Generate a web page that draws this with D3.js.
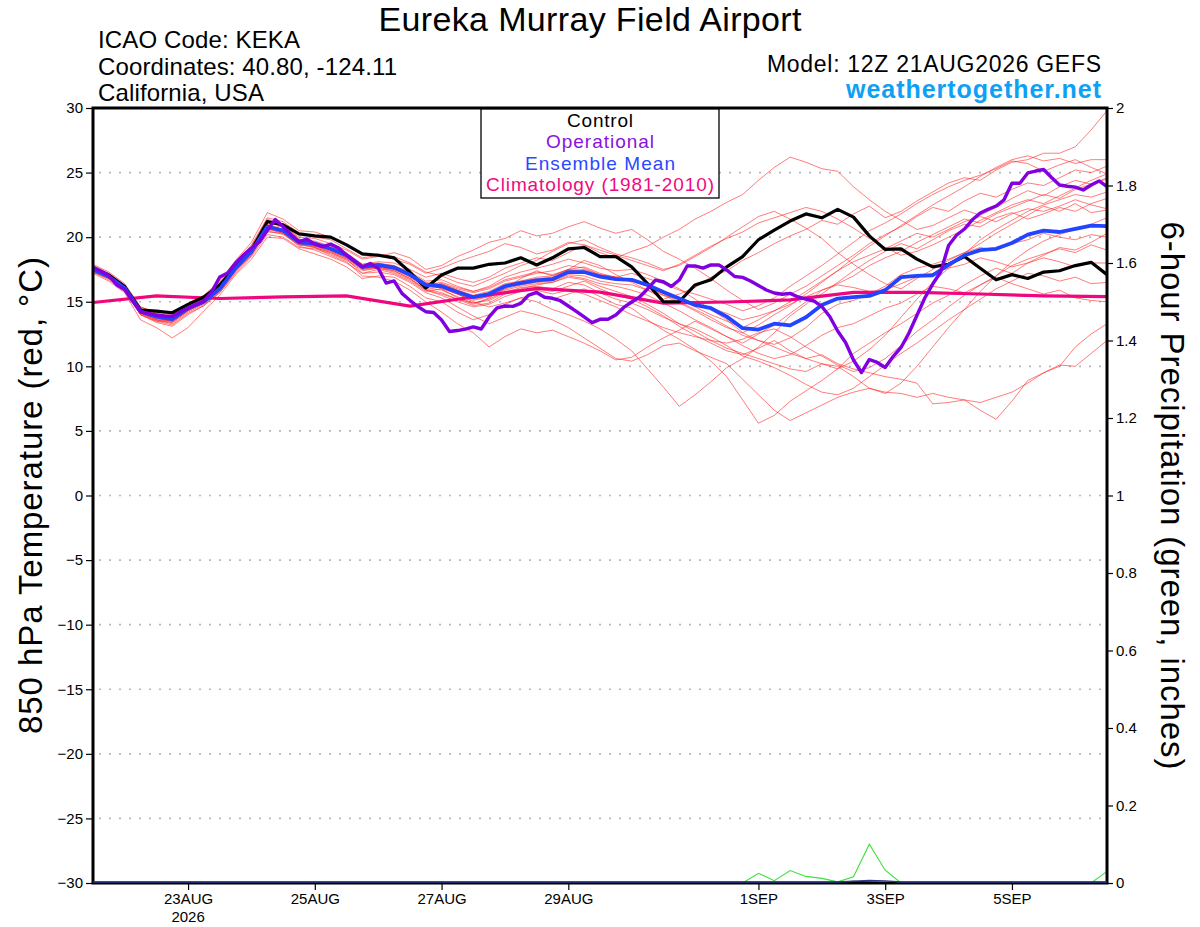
<!DOCTYPE html>
<html>
<head>
<meta charset="utf-8">
<script src="https://cdn.jsdelivr.net/npm/d3@7"></script>
<style>
  body { margin: 0; background: #fff; }
  svg text { font-family: "Liberation Sans", Arial, Helvetica, sans-serif; }
</style>
</head>
<body>
<svg id="chart" width="1200" height="927"></svg>
<script>
// run 12Z 21AUG2026, 16 day GEFS plume
const RUN_START = new Date(Date.UTC(2026, 7, 21, 12));
const RUN_END = new Date(Date.UTC(2026, 8, 6, 12));
const ensHours = d3.range(0, 385, 6);
const opHours = d3.range(0, 385, 3);
const climHours = d3.range(0, 385, 24);

const tickDates = ['2026-08-23', '2026-08-25', '2026-08-27', '2026-08-29', '2026-09-01', '2026-09-03', '2026-09-05'];
const tickLabels = ['23AUG', '25AUG', '27AUG', '29AUG', '1SEP', '3SEP', '5SEP'];
const tempTicks = [-30, -25, -20, -15, -10, -5, 0, 5, 10, 15, 20, 25, 30];
const precipTicks = [0, 0.2, 0.4, 0.6, 0.8, 1, 1.2, 1.4, 1.6, 1.8, 2];
const legendItems = ['Control', 'Operational', 'Ensemble Mean', 'Climatology (1981-2010)'];

const control = [
  17.6, 17.07, 16.17, 14.36, 14.28, 14.15, 14.8, 15.37, 16.3, 17.7, 19.0, 21.2, 20.95, 20.25, 20.1,
  20.0, 19.4, 18.7, 18.6, 18.4, 17.3, 16.07, 17.07, 17.6, 17.6, 17.9, 18.0, 18.4, 17.85, 18.4,
  19.1, 19.2, 18.5, 18.5, 17.7, 16.4, 15.0, 15.0, 16.3, 16.7, 17.7, 18.5, 19.8, 20.55, 21.25,
  21.8, 21.5, 22.15, 21.55, 20.1, 19.05, 19.1, 18.3, 17.7, 17.9, 18.5, 17.6, 16.7, 17.1, 16.8,
  17.3, 17.4, 17.8, 18.05, 17.1,
];

const ensMean = [
  17.5, 16.95, 16.05, 14.25, 13.85, 13.65, 14.5, 15.0, 16.0, 17.6, 18.9, 20.8, 20.5, 19.6, 19.5,
  19.1, 18.6, 17.7, 17.85, 17.65, 17.1, 16.3, 16.2, 15.75, 15.35, 15.6, 16.2, 16.45, 16.65, 16.75,
  17.3, 17.3, 16.95, 16.75, 16.7, 16.3, 15.75, 15.25, 14.75, 14.5, 13.85, 12.95, 12.85, 13.3, 13.17,
  13.8, 14.75, 15.25, 15.35, 15.45, 15.9, 16.9, 17.0, 17.05, 17.85, 18.6, 19.0, 19.1, 19.55, 20.2,
  20.5, 20.4, 20.65, 20.9, 20.85,
];

const operational = [
  17.66, 17.38, 17.03, 16.30, 15.95, 15.06, 14.22, 14.09, 13.96, 13.90, 13.86, 14.21, 14.52, 14.78, 15.06,
  15.79, 16.92, 17.23, 18.0, 18.62, 19.16, 19.63, 20.52, 21.37, 20.81, 20.21, 19.66, 19.84, 19.45, 19.26,
  19.46, 19.16, 18.62, 18.16, 17.69, 17.96, 17.59, 16.45, 16.61, 15.65, 15.11, 14.63, 14.23, 14.17, 13.59,
  12.70, 12.77, 12.88, 13.05, 12.89, 13.82, 14.52, 14.67, 14.64, 14.87, 15.52, 15.72, 15.35, 15.27, 15.08,
  14.67, 14.26, 13.82, 13.38, 13.64, 13.64, 13.97, 14.56, 14.98, 15.37, 15.99, 16.68, 16.55, 16.18, 16.68,
  17.77, 17.77, 17.60, 17.85, 17.85, 17.46, 16.95, 16.89, 16.61, 16.26, 15.91, 15.68, 15.58, 15.65, 15.37,
  15.21, 15.06, 14.63, 13.86, 12.74, 11.85, 10.49, 9.52, 10.53, 10.30, 9.91, 10.76, 11.46, 12.58, 13.94,
  15.29, 16.37, 17.30, 19.36, 20.15, 20.63, 21.35, 21.87, 22.16, 22.41, 22.89, 24.17, 24.17, 24.97, 25.12,
  25.24, 24.62, 24.04, 23.94, 23.87, 23.65, 24.04, 24.35, 23.91,
];

const climatology = [14.94, 15.45, 15.25, 15.37, 15.45, 14.67, 15.37, 16.03, 15.75, 14.9, 14.98, 15.14, 15.73, 15.73, 15.6, 15.45, 15.4];

const members = [
  [17.8, 17.2, 16.3, 14.6, 14.1, 13.9, 14.8, 15.4, 16.5, 18.0, 19.4, 21.5, 21.2, 20.3, 20.0, 19.8, 19.1, 18.4, 18.6, 18.3, 17.9, 17.2, 17.6, 18.1, 18.5, 18.9, 19.5, 19.2, 18.7, 19.0, 19.6, 19.4, 18.8, 18.4, 18.9, 19.3, 20.0, 20.6, 21.4, 22.0, 22.7, 23.3, 24.4, 25.4, 26.2, 25.8, 25.3, 25.1, 23.9, 22.9, 22.0, 21.3, 20.6, 20.9, 21.5, 22.1, 21.7, 22.3, 23.0, 23.6, 23.2, 23.9, 24.4, 24.1, 24.6],
  [17.3, 16.8, 15.9, 14.0, 13.5, 13.2, 14.1, 14.7, 15.8, 17.4, 18.6, 20.6, 20.9, 19.9, 19.2, 18.8, 18.3, 17.2, 17.5, 17.2, 16.6, 15.8, 16.0, 15.3, 14.8, 15.3, 16.0, 16.8, 17.4, 17.0, 17.5, 18.2, 17.8, 17.1, 16.5, 15.9, 15.2, 15.6, 16.1, 16.9, 17.4, 18.2, 18.8, 19.5, 20.1, 20.6, 21.3, 21.0, 21.8, 22.4, 21.5, 22.0, 22.8, 23.5, 24.2, 24.6, 24.4, 25.2, 25.8, 26.0, 26.5, 26.5, 27.0, 28.3, 29.8],
  [17.2, 16.6, 15.7, 13.6, 13.0, 12.2, 13.0, 14.3, 15.5, 17.1, 18.3, 20.0, 19.9, 19.1, 18.7, 18.3, 17.7, 16.8, 17.0, 16.9, 16.2, 15.3, 15.0, 14.2, 13.6, 14.0, 14.8, 15.3, 15.6, 15.2, 15.6, 16.0, 15.4, 14.8, 14.5, 13.6, 12.8, 12.1, 11.3, 10.4, 9.2, 7.4, 5.6, 6.2, 7.3, 8.1, 8.9, 9.8, 11.0, 11.8, 12.6, 13.3, 14.1, 14.9, 15.5, 16.3, 17.0, 17.6, 17.2, 18.0, 18.6, 19.2, 19.0, 19.6, 20.3],
  [17.6, 17.0, 16.0, 14.2, 13.7, 13.5, 14.4, 14.9, 15.9, 17.5, 18.7, 20.5, 20.2, 19.4, 19.3, 18.9, 18.4, 17.5, 17.7, 17.4, 16.8, 16.0, 15.7, 15.2, 14.7, 14.9, 15.6, 15.9, 16.0, 15.8, 16.2, 16.6, 16.0, 15.5, 15.2, 14.6, 13.9, 13.1, 12.4, 11.8, 11.2, 10.9, 11.4, 12.0, 11.2, 10.6, 10.9, 10.2, 9.8, 9.5, 9.2, 9.0, 8.7, 7.1, 7.2, 7.4, 6.6, 5.9, 7.3, 8.9, 9.5, 10.0, 11.5, 12.5, 13.3],
  [17.4, 16.9, 16.1, 14.4, 14.0, 13.8, 14.6, 15.2, 16.2, 17.8, 19.1, 21.0, 20.6, 19.7, 19.7, 19.3, 18.7, 17.8, 17.9, 17.7, 17.0, 16.4, 16.0, 15.6, 15.0, 14.6, 14.9, 15.3, 15.0, 14.4, 14.0, 13.5, 12.9, 12.1, 11.2, 9.8, 8.4, 6.9, 7.8, 8.8, 9.9, 10.6, 11.5, 12.6, 13.9, 14.8, 15.9, 16.4, 17.0, 17.8, 18.4, 18.9, 19.6, 20.2, 20.8, 21.4, 21.1, 21.8, 22.3, 22.8, 23.3, 23.0, 23.7, 24.1, 24.5],
  [17.5, 16.9, 15.9, 14.1, 13.6, 13.3, 14.2, 14.8, 15.7, 17.3, 18.6, 20.4, 20.3, 19.3, 19.0, 18.5, 18.0, 17.2, 17.3, 17.1, 16.5, 15.7, 15.3, 14.6, 13.9, 13.3, 13.8, 14.3, 14.0, 13.6, 13.0, 12.2, 11.4, 10.6, 10.4, 10.9, 11.6, 11.8, 11.2, 10.7, 10.2, 9.0, 7.8, 6.6, 5.8, 6.4, 7.0, 7.6, 8.0, 8.3, 8.0, 7.9, 7.6, 7.9, 7.6, 7.4, 7.2, 7.6, 8.0, 8.7, 9.5, 10.1, 10.0, 11.0, 12.0],
  [17.6, 17.1, 16.2, 14.3, 13.9, 13.7, 14.5, 15.0, 16.0, 17.6, 18.9, 20.9, 20.4, 19.5, 19.2, 18.6, 18.1, 17.0, 16.9, 16.6, 15.9, 15.0, 14.2, 13.3, 12.6, 11.5, 12.3, 12.9, 12.6, 12.8, 12.3, 11.8, 11.2, 10.5, 10.7, 11.5, 12.2, 12.8, 13.5, 12.9, 12.3, 11.8, 12.5, 13.2, 14.1, 15.0, 15.6, 16.5, 17.4, 18.2, 18.9, 19.5, 19.1, 19.8, 20.5, 21.0, 20.8, 21.5, 21.9, 21.4, 21.8, 22.3, 22.0, 22.6, 23.0],
  [17.7, 17.1, 16.1, 14.4, 14.0, 13.7, 14.6, 15.2, 16.3, 17.9, 19.3, 21.4, 20.9, 20.0, 19.9, 19.5, 19.0, 18.3, 18.5, 18.8, 18.4, 17.5, 17.8, 18.5, 19.0, 19.6, 19.9, 20.5, 20.1, 20.3, 20.8, 21.2, 20.7, 20.3, 20.6, 19.8, 18.9, 18.3, 17.6, 16.8, 15.9, 15.1, 14.4, 14.9, 15.6, 16.2, 17.0, 17.8, 18.6, 19.5, 20.2, 20.8, 21.6, 22.3, 22.0, 22.8, 23.4, 23.1, 23.7, 24.2, 24.0, 24.6, 25.2, 25.0, 25.5],
  [17.4, 16.8, 15.8, 14.0, 13.5, 13.4, 14.3, 14.9, 15.9, 17.5, 18.8, 20.7, 20.6, 19.7, 19.6, 19.2, 18.8, 17.9, 18.1, 18.0, 17.5, 16.9, 17.2, 16.8, 16.5, 16.9, 17.6, 18.0, 18.4, 18.2, 18.8, 19.4, 19.0, 18.6, 18.2, 17.8, 17.4, 17.9, 18.6, 19.3, 19.9, 20.4, 21.1, 21.5, 21.9, 22.3, 22.0, 21.4, 20.7, 19.9, 19.2, 18.6, 18.9, 19.4, 20.0, 20.6, 21.3, 21.9, 22.5, 22.9, 22.6, 23.2, 23.8, 24.4, 24.9],
  [17.5, 17.0, 16.0, 14.2, 13.8, 13.6, 14.4, 14.9, 15.9, 17.5, 18.8, 20.7, 20.4, 19.5, 19.4, 19.0, 18.5, 17.6, 17.8, 17.6, 17.0, 16.2, 16.4, 16.0, 15.7, 16.0, 16.6, 16.9, 17.2, 17.4, 17.8, 17.6, 17.1, 16.9, 17.2, 16.8, 16.4, 15.9, 15.6, 15.2, 14.8, 14.3, 14.7, 15.3, 16.2, 17.0, 17.8, 18.7, 19.6, 20.5, 21.1, 21.8, 22.6, 23.3, 23.9, 24.4, 24.8, 25.3, 25.9, 25.7, 25.1, 25.6, 26.0, 25.4, 24.9],
  [17.3, 16.7, 15.8, 14.0, 13.4, 13.1, 14.0, 14.7, 15.7, 17.2, 18.5, 20.2, 20.0, 19.2, 19.1, 18.7, 18.2, 17.4, 17.6, 17.3, 16.7, 15.9, 15.6, 15.2, 14.9, 15.2, 15.8, 16.0, 16.3, 16.5, 17.0, 16.8, 16.4, 16.2, 15.9, 15.5, 14.9, 14.3, 13.6, 13.0, 12.3, 11.6, 11.0, 10.6, 10.9, 11.6, 12.4, 13.0, 13.3, 13.9, 14.5, 14.9, 15.6, 16.2, 16.0, 15.7, 16.3, 16.9, 16.4, 16.0, 15.6, 15.9, 15.3, 15.1, 15.0],
  [17.6, 17.0, 16.1, 14.3, 13.9, 13.8, 14.5, 15.1, 16.1, 17.7, 19.0, 20.9, 20.6, 19.7, 19.5, 19.1, 18.6, 17.8, 17.9, 17.8, 17.3, 16.6, 16.7, 16.2, 15.8, 16.2, 16.9, 17.3, 17.6, 17.9, 18.3, 18.0, 17.6, 17.4, 17.5, 17.1, 16.6, 16.0, 15.2, 14.4, 13.6, 12.6, 12.0, 11.7, 12.2, 13.0, 14.1, 14.8, 15.1, 15.6, 16.2, 17.1, 17.6, 17.9, 18.3, 18.8, 19.2, 19.0, 19.5, 19.8, 20.3, 20.0, 19.8, 20.2, 20.0],
  [17.9, 17.3, 16.4, 14.6, 14.2, 14.0, 14.9, 15.5, 16.6, 18.2, 19.6, 21.9, 21.4, 20.5, 20.4, 20.0, 19.4, 18.6, 18.7, 18.5, 18.0, 17.3, 17.0, 16.5, 16.2, 16.7, 17.2, 17.8, 18.2, 18.9, 19.5, 19.8, 19.2, 18.7, 18.4, 18.0, 17.5, 17.8, 18.5, 19.2, 20.0, 20.8, 21.6, 22.0, 21.4, 20.7, 19.9, 18.8, 17.9, 17.1, 16.4, 16.0, 16.8, 17.5, 18.2, 18.8, 19.5, 20.3, 21.0, 21.7, 22.4, 22.0, 22.6, 21.9, 22.1],
  [17.5, 16.9, 16.0, 14.1, 13.6, 13.4, 14.3, 14.9, 16.0, 17.6, 18.9, 20.8, 20.4, 19.5, 19.3, 18.9, 18.4, 17.6, 17.7, 17.5, 16.9, 16.1, 15.9, 15.4, 14.9, 15.1, 15.7, 16.1, 16.2, 16.0, 16.5, 16.3, 15.7, 15.2, 14.9, 14.4, 13.8, 13.3, 12.9, 12.3, 11.6, 10.8, 10.4, 9.9, 9.3, 8.6, 8.0, 7.8, 8.3, 9.2, 10.1, 11.0, 11.8, 12.7, 13.6, 14.4, 15.2, 16.0, 16.6, 17.2, 17.0, 16.6, 16.9, 16.4, 16.5],
  [17.7, 17.1, 16.2, 14.5, 14.1, 13.8, 14.7, 15.2, 16.2, 17.8, 19.2, 21.2, 20.8, 19.8, 19.6, 19.2, 18.7, 17.9, 18.0, 17.8, 17.2, 16.5, 16.3, 15.9, 15.5, 15.8, 16.4, 16.6, 16.9, 17.0, 17.5, 17.4, 17.0, 16.8, 16.6, 16.2, 15.6, 15.0, 14.4, 13.8, 13.1, 12.4, 12.0, 11.5, 11.0, 10.6, 10.2, 9.8, 10.4, 11.3, 12.4, 13.8, 15.2, 16.5, 17.6, 18.7, 19.8, 20.6, 21.3, 22.0, 22.5, 22.9, 23.3, 23.1, 23.5],
  [17.4, 16.9, 16.0, 14.2, 13.7, 13.5, 14.4, 14.9, 15.9, 17.5, 18.9, 20.8, 20.5, 19.6, 19.4, 19.0, 18.5, 17.6, 17.7, 17.5, 17.0, 16.3, 16.5, 16.1, 15.8, 16.1, 16.7, 17.0, 17.3, 17.1, 17.5, 17.7, 17.2, 16.9, 16.6, 16.2, 15.5, 14.9, 14.3, 13.6, 13.0, 12.6, 13.2, 14.0, 14.7, 15.6, 16.5, 17.4, 18.4, 19.3, 20.1, 20.9, 21.7, 22.5, 23.2, 23.9, 24.7, 25.4, 26.0, 26.3, 25.9, 26.1, 25.7, 26.0, 26.0],
  [17.6, 17.0, 16.0, 14.2, 13.8, 13.5, 14.4, 15.0, 16.0, 17.6, 18.9, 20.7, 20.3, 19.4, 19.2, 18.8, 18.3, 17.5, 17.6, 17.4, 16.8, 15.9, 15.5, 15.0, 14.6, 14.8, 15.4, 15.8, 15.9, 15.6, 15.9, 15.6, 15.1, 14.6, 14.0, 13.5, 13.0, 12.6, 12.3, 12.0, 11.8, 12.1, 12.6, 12.9, 12.3, 11.5, 10.8, 10.1, 9.6, 9.9, 10.6, 11.6, 12.7, 13.6, 14.6, 15.5, 16.3, 17.0, 17.8, 18.3, 18.7, 19.1, 18.8, 19.4, 19.0],
  [17.3, 16.8, 15.9, 14.1, 13.6, 13.5, 14.3, 14.9, 15.9, 17.4, 18.7, 20.6, 20.3, 19.5, 19.4, 19.0, 18.5, 17.7, 17.8, 17.6, 17.1, 16.4, 16.1, 15.6, 15.1, 15.4, 16.0, 16.3, 16.5, 16.6, 17.1, 17.0, 16.6, 16.4, 16.3, 15.9, 15.5, 15.2, 14.8, 14.5, 14.1, 13.6, 13.9, 14.3, 14.8, 15.4, 15.9, 16.3, 16.1, 15.8, 15.9, 16.4, 16.9, 17.2, 17.6, 17.9, 18.4, 18.1, 17.7, 18.0, 18.4, 18.1, 17.7, 18.0, 18.0],
  [17.5, 16.9, 16.0, 14.2, 13.8, 13.6, 14.5, 15.0, 16.0, 17.6, 18.9, 20.8, 20.5, 19.6, 19.5, 19.1, 18.6, 17.7, 17.8, 17.6, 17.0, 16.2, 16.1, 15.6, 15.2, 15.4, 15.9, 16.2, 16.4, 16.5, 16.9, 16.7, 16.2, 15.8, 15.4, 14.8, 14.1, 13.3, 12.7, 12.0, 11.4, 11.0, 10.6, 10.2, 9.8, 9.6, 10.2, 10.0, 9.2, 8.3, 7.9, 8.7, 10.0, 11.5, 13.0, 14.4, 15.8, 17.0, 18.1, 19.0, 19.7, 20.2, 20.6, 21.0, 21.5],
  [17.6, 17.0, 16.0, 14.3, 13.9, 13.6, 14.5, 15.1, 16.1, 17.7, 19.0, 20.9, 20.6, 19.7, 19.5, 19.1, 18.6, 17.7, 17.9, 17.7, 17.1, 16.3, 16.4, 15.9, 15.4, 15.7, 16.3, 16.6, 16.8, 16.9, 17.4, 17.5, 17.1, 16.9, 16.7, 16.3, 15.8, 15.2, 14.6, 14.0, 13.5, 13.0, 13.6, 14.3, 15.0, 15.8, 16.6, 17.4, 18.1, 18.6, 19.1, 19.7, 20.3, 20.0, 20.6, 21.2, 21.6, 21.2, 21.8, 22.2, 22.0, 22.4, 22.9, 22.5, 22.2],
];

// 6-hour precipitation, inches
const precipMembers = [
  0, 0, 0, 0, 0, 0, 0, 0, 0, 0, 0, 0, 0, 0, 0, 0, 0, 0, 0, 0, 0, 0, 0, 0, 0, 0, 0, 0, 0, 0,
  0, 0, 0, 0, 0, 0, 0, 0, 0, 0, 0, 0, 0.025, 0.006, 0.032, 0.017, 0.012, 0.003, 0.016, 0.1, 0.033, 0, 0, 0, 0, 0, 0, 0, 0, 0,
  0, 0, 0, 0, 0.03,
];
const precipControl = [
  0, 0, 0, 0, 0, 0, 0, 0, 0, 0, 0, 0, 0, 0, 0, 0, 0, 0, 0, 0, 0, 0, 0, 0, 0, 0, 0, 0, 0, 0,
  0, 0, 0, 0, 0, 0, 0, 0, 0, 0, 0, 0, 0, 0, 0, 0, 0, 0.001, 0.004, 0.002, 0, 0, 0, 0, 0, 0, 0, 0, 0, 0,
  0, 0, 0, 0, 0,
];
const precipMean = [
  0, 0, 0, 0, 0, 0, 0, 0, 0, 0, 0, 0, 0, 0, 0, 0, 0, 0, 0, 0, 0, 0, 0, 0, 0, 0, 0, 0, 0, 0,
  0, 0, 0, 0, 0, 0, 0, 0, 0, 0, 0, 0, 0, 0, 0, 0, 0, 0, 0.002, 0.004, 0.003, 0, 0, 0, 0, 0, 0, 0, 0, 0,
  0, 0, 0, 0, 0,
];

const LEFT = 93;
const RIGHT = 1107;
const TOP = 108;
const BOTTOM = 883;
const FONT = '"Liberation Sans", Arial, Helvetica, sans-serif';

const svg = d3.select('#chart');
svg.append('rect').attr('width', 1200).attr('height', 927).attr('fill', '#fff');

const x = d3.scaleUtc().domain([RUN_START, RUN_END]).range([LEFT, RIGHT]);
const yT = d3.scaleLinear().domain([-30, 30]).range([BOTTOM, TOP]);
const yP = d3.scaleLinear().domain([0, 2]).range([BOTTOM, TOP]);
const hourToDate = (h) => new Date(RUN_START.getTime() + h * 3600e3);

function tempLine(hours) {
  return d3.line()
    .x((d, i) => x(hourToDate(hours[i])))
    .y((d) => yT(d));
}

function precipLine(hours) {
  return d3.line()
    .x((d, i) => x(hourToDate(hours[i])))
    .y((d) => yP(d));
}

svg.append('clipPath').attr('id', 'plot-clip')
  .append('rect')
  .attr('x', LEFT).attr('y', TOP)
  .attr('width', RIGHT - LEFT).attr('height', BOTTOM - TOP);

// dotted grid
svg.append('g')
  .selectAll('line')
  .data(tempTicks.filter((t) => t > -30 && t < 30))
  .join('line')
  .attr('x1', LEFT + 6).attr('x2', RIGHT)
  .attr('y1', (d) => yT(d)).attr('y2', (d) => yT(d))
  .attr('stroke', '#b8b8b8')
  .attr('stroke-width', 1.6)
  .attr('stroke-dasharray', '2,8');

const plot = svg.append('g').attr('clip-path', 'url(#plot-clip)');

plot.append('g')
  .selectAll('path')
  .data(members)
  .join('path')
  .attr('d', tempLine(ensHours))
  .attr('fill', 'none')
  .attr('stroke', '#ff2020')
  .attr('stroke-opacity', 0.65)
  .attr('stroke-width', 0.9);

plot.append('path')
  .attr('d', precipLine(ensHours)(precipMembers))
  .attr('fill', 'none')
  .attr('stroke', '#3ee03e')
  .attr('stroke-width', 1.1);

plot.append('path')
  .attr('d', tempLine(climHours)(climatology))
  .attr('fill', 'none')
  .attr('stroke', '#f0067e')
  .attr('stroke-width', 3.2);

plot.append('path')
  .attr('d', tempLine(ensHours)(control))
  .attr('fill', 'none')
  .attr('stroke', '#000')
  .attr('stroke-width', 3.2)
  .attr('stroke-linejoin', 'round');

plot.append('path')
  .attr('d', tempLine(ensHours)(ensMean))
  .attr('fill', 'none')
  .attr('stroke', '#2244ff')
  .attr('stroke-width', 3.8)
  .attr('stroke-linejoin', 'round');

plot.append('path')
  .attr('d', tempLine(opHours)(operational))
  .attr('fill', 'none')
  .attr('stroke', '#8000e0')
  .attr('stroke-width', 3.4)
  .attr('stroke-linejoin', 'round');

// frame
svg.append('rect')
  .attr('x', LEFT).attr('y', TOP)
  .attr('width', RIGHT - LEFT).attr('height', BOTTOM - TOP)
  .attr('fill', 'none')
  .attr('stroke', '#000')
  .attr('stroke-width', 3);

// precip lines sitting on the bottom edge
svg.append('path')
  .attr('d', precipLine(ensHours)(precipControl))
  .attr('fill', 'none').attr('stroke', '#000').attr('stroke-width', 1.6);
svg.append('path')
  .attr('d', precipLine(ensHours)(precipMean))
  .attr('fill', 'none').attr('stroke', '#2a3a8a').attr('stroke-width', 1.4)
  .attr('transform', 'translate(0,-1)');

// axes
const leftAxis = svg.append('g')
  .attr('transform', `translate(${LEFT - 1},0)`)
  .call(d3.axisLeft(yT).tickValues(tempTicks).tickSize(6).tickPadding(3));
const rightAxis = svg.append('g')
  .attr('transform', `translate(${RIGHT + 1},0)`)
  .call(d3.axisRight(yP).tickValues(precipTicks).tickSize(5).tickPadding(3).tickFormat(d3.format('~g')));
const bottomAxis = svg.append('g')
  .attr('transform', `translate(0,${BOTTOM + 1})`)
  .call(d3.axisBottom(x)
    .tickValues(tickDates.map((s) => new Date(`${s}T00:00:00Z`)))
    .tickSize(6).tickPadding(3)
    .tickFormat((d, i) => tickLabels[i]));

[leftAxis, rightAxis, bottomAxis].forEach((g) => {
  g.select('.domain').remove();
  g.selectAll('.tick line').attr('stroke', '#000').attr('stroke-width', 1.2);
  g.selectAll('.tick text').attr('fill', '#000').style('font-size', '15px').style('font-family', FONT);
});

svg.append('text')
  .attr('x', x(new Date(`${tickDates[0]}T00:00:00Z`)))
  .attr('y', 922)
  .attr('text-anchor', 'middle')
  .style('font-size', '15px')
  .text('2026');

// legend
const legend = svg.append('g');
legend.append('rect')
  .attr('x', 481).attr('y', 109)
  .attr('width', 238).attr('height', 89)
  .attr('fill', '#fff')
  .attr('stroke', '#000')
  .attr('stroke-width', 1.3);
const legendColors = ['#000', '#8a10e0', '#2a48ff', '#f00a80'];
const legendWidths = [66, 108, 150, 228];
legend.selectAll('text.lg')
  .data(legendItems)
  .join('text')
  .attr('class', 'lg')
  .attr('x', 600)
  .attr('y', (d, i) => 127 + i * 21.4)
  .attr('text-anchor', 'middle')
  .attr('fill', (d, i) => legendColors[i])
  .attr('textLength', (d, i) => legendWidths[i])
  .attr('lengthAdjust', 'spacing')
  .style('font-size', '19px')
  .text((d) => d);

// titles
function label(txt, xPos, yPos, size, width, opts = {}) {
  const t = svg.append('text')
    .attr('x', xPos).attr('y', yPos)
    .attr('text-anchor', opts.anchor || 'start')
    .attr('fill', opts.fill || '#000')
    .attr('textLength', width)
    .attr('lengthAdjust', 'spacing')
    .style('font-size', `${size}px`)
    .style('font-weight', opts.bold ? 'bold' : 'normal')
    .text(txt);
  if (opts.transform) t.attr('transform', opts.transform);
  return t;
}

label('Eureka Murray Field Airport', 590, 31, 34, 423, { anchor: 'middle' });
label('ICAO Code: KEKA', 98, 48, 24, 202);
label('Coordinates: 40.80, -124.11', 98, 75, 24, 299);
label('California, USA', 98, 101, 24, 166);
label('Model: 12Z 21AUG2026 GEFS', 1101, 72, 23, 334, { anchor: 'end' });
label('weathertogether.net', 1101, 98, 25, 255, { anchor: 'end', bold: true, fill: '#0ea0f4' });

label('850 hPa Temperature (red, °C)', 0, 0, 33, 477, {
  anchor: 'middle', transform: `translate(42,${(TOP + BOTTOM) / 2}) rotate(-90)`,
});
label('6-hour Precipitation (green, inches)', 0, 0, 33, 548, {
  anchor: 'middle', transform: `translate(1161,${(TOP + BOTTOM) / 2}) rotate(90)`,
});
</script>
</body>
</html>
